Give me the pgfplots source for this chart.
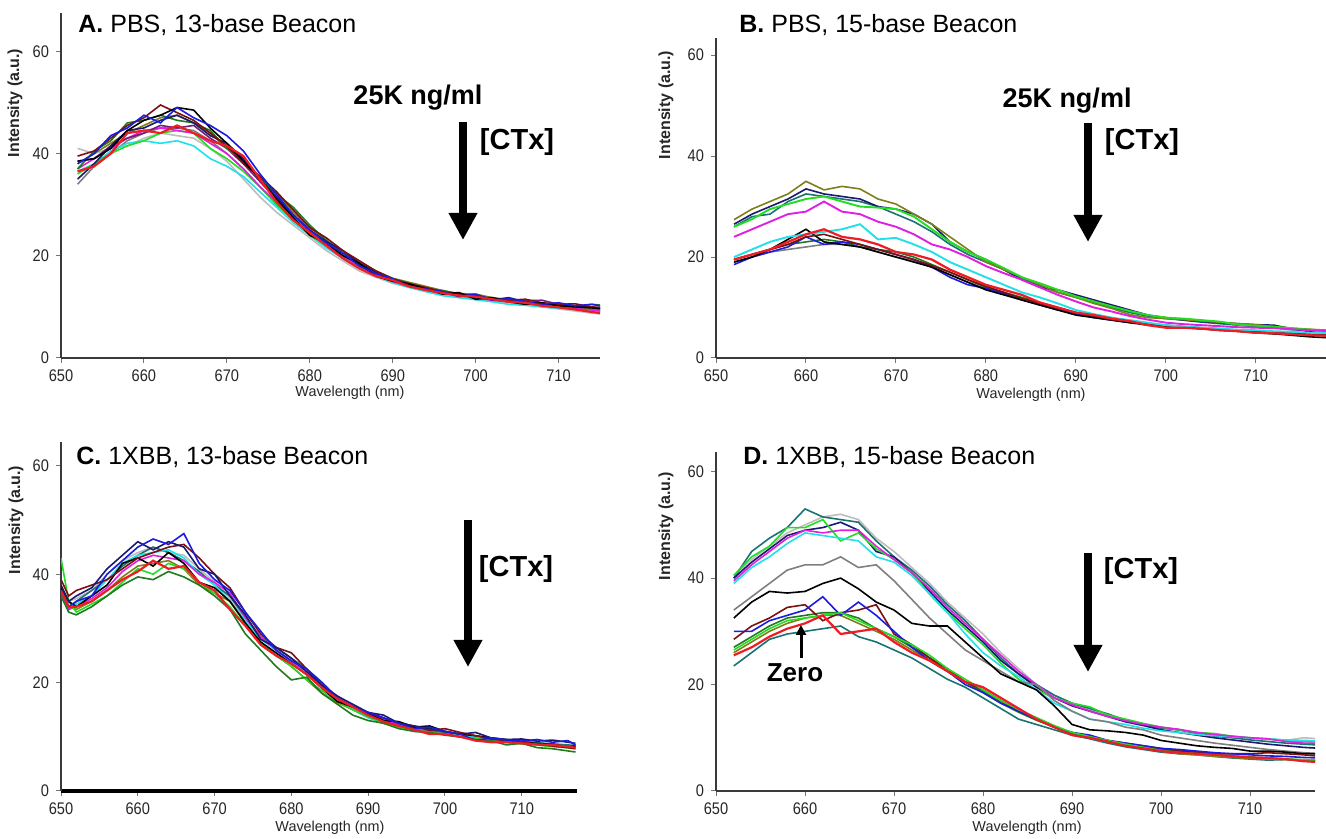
\documentclass[border=0pt]{standalone}
\usepackage{fontspec}
\setmainfont{Liberation Sans}
\newfontfamily\narrowfont[FakeStretch=0.87]{Liberation Sans}
\usepackage{pgfplots}
\usepackage{pgfplotstable}
\pgfplotsset{compat=1.18}
\usetikzlibrary{arrows.meta}

\definecolor{cMaroon}{HTML}{7B1010}
\definecolor{cBlue}{HTML}{1C1CE0}
\definecolor{cDkGreen}{HTML}{1E7B1E}
\definecolor{cLime}{HTML}{22DD22}
\definecolor{cCyan}{HTML}{22E0E8}
\definecolor{cMag}{HTML}{E020E0}
\definecolor{cRed}{HTML}{EE1C24}
\definecolor{cLtGray}{HTML}{BDBDBD}
\definecolor{cGray}{HTML}{7F7F7F}
\definecolor{cOlive}{HTML}{7F7F1A}
\definecolor{cNavy}{HTML}{1A1A70}
\definecolor{cPurple}{HTML}{7A1A7A}
\definecolor{cTeal}{HTML}{1A7373}
\definecolor{axcol}{HTML}{3A3A3A}
\definecolor{tickcol}{HTML}{262626}

\pgfplotstableread[header=false]{
x 652 654 656 658 660 662 664 666 668 670 672 674 676 678 680 682 684 686 688 690 692 694 696 698 700 702 704 706 708 710 712 714 716
a1 38.5 39 41 44.5 46.5 47.5 49 48.5 45 42 38.5 35 31 27.5 24 22.5 20 18.5 16 15 14.5 13.5 12.5 12.8 11.5 11.8 11 10.5 10.8 10.2 10 9.8 9.5
a2 39.5 40.5 43 45.5 47 49.5 48 46.5 44 41.5 38 35.5 32.5 29 25.5 23.5 21 19 17 15.5 14.5 13.8 13 12.5 12.2 11.6 11.3 11.5 10.8 10.5 10.6 10 9.8
a3 38 40 43.5 45 47.5 46 49 47 45.5 43.5 40.5 36 32 28 25 22.5 20.5 18 16.5 15.5 14 13.5 13 12 12.5 11.3 11.6 11 10.5 10.8 10.2 10.5 9.9
a4 37 40.5 42.5 46 46.5 47.5 46.5 46 44.5 41 39 35 32 29.5 26 23 20.5 18.5 17 15.5 14.6 13.5 13.2 12.5 12 11.8 11.2 11 10.6 10.4 10 10.5 10.2
a5 36 38 40 41.5 42.5 44 44.5 44 41 39 36.5 33.5 30 27 24 22 19.5 17.8 16.2 15 14 13.2 12.9 12.2 11.8 11.4 11 10.6 10.5 10 9.8 9.5 9
a6 36.5 38 40.5 42 42.5 42 42.5 41.5 39 37.5 35.5 32.5 29.5 26.5 24 21.5 19.5 17.5 16 14.8 13.8 13 12.2 11.8 11.4 11 10.5 10.3 10 9.7 9.5 9.3 9
a7 37 39 41 43 44.5 45 44.5 44 42 40 37 33.5 30.5 27.5 24.5 22 20 18 16.3 15 14 13.3 12.7 12.2 11.8 11.3 11 10.8 10.3 10 9.7 9.4 9
a8 36.5 37.5 40 44 44.5 44 45.5 44 42.5 41.5 39.5 35 30.5 27 24.5 22 19.5 17.5 16 15.2 14 13.3 12.7 12.2 12 11.5 11 10.8 10.2 9.9 9.5 9 8.6
a9 41 40 41 41.5 43 44 43.5 43 41 38.5 35 31.5 28.5 26 23.5 21 19 17 15.8 14.6 13.8 13 12.4 12 11.5 11.2 10.8 10.4 10 9.6 9.2 8.8 8.4
a10 38 40 42 44 45.5 47 47.5 46 44 41 38.5 35.5 32.5 28.5 25.5 23 20.5 18.8 17 15.6 14.8 14 13.2 12.6 12.5 11.8 11.4 11 10.7 10.3 10.1 9.7 9.4
a11 35 38 41.5 44.5 45 46.5 47.5 46 43.5 42 39 35 31.5 28 25 22.8 21 18.5 16.8 15.2 14.2 13.6 12.8 12.5 12 11.4 11.8 11 10.6 10.4 10.2 9.9 9.6
a12 38.5 39 41.5 43 44 45.5 45 45.5 43 41 38 34.5 31 28 25 22.5 20.5 18.3 16.6 15.3 14.4 13.7 13 12.4 12.1 11.6 11.4 11.2 11.3 10.5 10.2 9.8 9.6
a13 34 37.5 40 42.5 44 45 45 44.5 42.5 40 37 33.5 30 27 24.5 22 20 18 16.5 15 14 13.3 12.7 12.2 11.8 11.4 11 10.7 10.4 10.1 9.8 9.5 9.2
}\rawA
\pgfplotstabletranspose[colnames from=0]\tabA\rawA

\pgfplotstableread[header=false]{
x 652 654 656 658 660 662 664 666 668 670 672 674 676 678 680 682 684 686 688 690 692 694 696 698 700 702 704 706 708 710 712 714 716 718
b1 27.4 29.5 31 32.5 35 33.3 34 33.5 31.5 30.5 28.5 26.5 24 21.5 19 17.5 16 14.5 13 12 10.8 9.8 8.6 8 7.8 7.6 7.3 7.1 6.8 6.6 6.2 5.9 5.7 5.5
b2 26.5 28.5 30 31.5 33.5 32.5 32 31.5 30 29.5 28.5 26.5 23 21 19.5 17.5 15.5 14 13.5 12.5 11.5 10.5 9.5 8.5 8 7.5 7.2 7 6.8 6.6 6.5 5.8 5.2 4.8
b3 26 28 28.5 31 32.5 32 31.5 31 30 28.5 27 25 22.5 20.5 19 17.5 15.8 14.3 13 12 11 10 9 8.3 7.8 7.5 7.1 6.8 6.5 6.2 6 5.6 5.5 5.3
b4 26 27.5 29.5 30.5 31.5 32 31 30 29.8 29.5 28 25.5 23 21 19.5 17.8 16 14.8 13.5 12.2 11.2 10.2 9.3 8.5 8 7.8 7.5 7.2 6.6 6.4 6.2 5.9 5.6 5.4
b5 24 25.5 27 28.5 29 31 29 28.5 27 26 24.5 22.5 21.5 20 18.2 16.8 15.5 14 12.5 11.2 10 9.2 8.3 7.6 7 6.7 6.5 6.3 6.1 6 5.9 5.7 5.5 5.4
b6 20 21.5 23 24 24.5 25 25.5 26.5 23.5 23.8 22.5 21 19 17.5 16 14.5 13 12 10.8 9.5 8.7 8 7.5 7 6.5 6.2 6 5.8 5.6 5.5 5.3 5.2 5 4.9
b7 19 20 21.5 23.5 25.5 23 22.5 22 21 20 19 18 16.5 15 13.5 12.5 11.5 10.5 9.5 8.5 8 7.5 7 6.5 6.2 6 5.8 5.5 5.3 5 4.8 4.5 4.2 4
b8 18.5 20 21 22 24 22.5 23 22.5 21.5 20.5 19.5 18 16 14.5 13.8 12.8 11.5 10.5 9.5 8.8 8 7.5 7 6.8 6.5 6.2 6 5.8 5.5 5.2 5 4.8 4.6 4.5
b9 19.5 20.5 21.5 22.5 23 23.5 23 22 21.5 21 20 18.5 17 15.5 14 13 12 11 10 9 8.3 7.8 7.2 6.8 6.3 6.1 5.8 5.5 5.3 5 4.8 4.7 4.5 4.4
b10 19 20 21 21.5 22 22.5 22.5 22 21 20 19.2 18 16.5 15 13.8 12.6 11.5 10.5 9.6 8.8 8.1 7.6 7.1 6.6 6.3 6 5.8 5.6 5.4 5.2 5 4.8 4.7 4.6
b11 19.5 20.5 21.5 22.5 24 24.5 23.5 22.5 21.5 20.5 19.5 18.3 17 15.5 14.2 13 11.8 10.8 9.8 9 8.3 7.6 7.2 6.8 6.4 6.2 5.9 5.7 5.4 5.2 5 4.9 4.7 4.6
b12 19.5 20.5 21.5 23 24.5 25.5 24 23.5 22.5 21 20.5 19.5 17.5 16 14.5 13.5 12.5 11 10 9 8.5 7.8 7.3 6.5 6 6 5.8 5.5 5.3 5 4.9 4.7 4.5 4.4
}\rawB
\pgfplotstabletranspose[colnames from=0]\tabB\rawB

\pgfplotstableread[header=false]{
x 650 651 652 654 656 658 660 662 664 666 668 670 672 674 676 678 680 682 684 686 688 690 692 694 696 698 700 702 704 706 708 710 712 714 716 717
c1 38 35 36 37.5 41 43.5 46 44.5 46 45 41 40 36 32.5 28 26.5 24.5 22 19.5 17.5 16 14.5 14 12.5 12 11.5 11 10.5 10.8 9.8 9.5 9.6 9.2 9.4 9 8.8
c2 37 34 35 36 40 42.5 45 46.5 45.5 47.5 42 39 37 33 29.5 26 24 22.5 20 17 15.5 14.5 13.5 12.5 11.5 11.8 11 10.5 9.3 9.8 9.4 9.2 9.5 9 9.3 8.5
c3 39 36 37 38 39 41 43 44 45 45.5 43 40 37.5 33 29 26.5 25.5 22.5 19.5 17 15.5 14.5 13.5 12.5 12 11.2 11.5 10.8 10.2 9.6 9.3 9.1 8.6 8.3 8 7.8
c4 37.5 35 34 36 38 42 43 41.5 44 42 38.5 37.5 35 31 27.5 25.5 23.5 21.5 19 16.5 15.5 14.3 13 12.8 11.8 12 11 10.5 10.2 9.8 9.5 9 8.8 8.6 8.2 8.3
c5 36 33 32.5 34 36 38 39.5 39 40.5 39.5 38 36 33.5 29 26 23 20.5 21 18 16 14 13 12.5 11.5 11 10.8 10.3 10 9.5 9.3 8.5 8.8 8 7.8 7.4 7.2
c6 43 35 33 34.5 36 38.5 41 40 42 41 38.5 36.5 34 30.5 27.5 25 23 20.5 18.5 16.5 15 13.8 12.5 11.8 11.2 10.8 10.5 10 9.7 9.2 9 8.8 8.5 8.2 8 7.8
c7 37 34 34.5 36 39 42 43.5 44 44.5 43 40 38 35 31.5 28 26 23.8 21.5 19 17 15 13.5 12.5 11.8 11 10.8 10.5 10.2 10 9.6 9.3 9 8.8 8.5 8.3 8.2
c8 36 33.5 34 35.5 37.5 40.5 42.5 43.5 43 42.5 40 38.5 36.5 32 28.5 26 24 22 19.5 17.5 15.8 14.2 13.2 12.2 11.5 11 10.4 10 9.6 9.4 9 8.8 8.6 8.3 8.1 8
c9 37 35 35.5 37 40 42.5 44 45 44 43.5 41 38.5 35.5 31.5 28.5 26 24 22 19.5 17 15.5 14.2 13 12.3 11.6 11.2 10.8 10.3 9.9 9.6 9.3 9 8.8 8.6 8.4 8.3
c10 38 34 33.5 35 37 39.5 41.5 42 42.5 41 38 36.5 35 31 27 25 23 20.5 18 16.3 15 13.7 12.7 12 11.3 10.9 10.5 10 9.6 9.3 9 8.7 8.5 8.3 8 7.9
c11 36.5 33.5 35 37 39 41.5 43.5 45 44 42.5 40.5 38 36 32 28.5 26.5 24.5 22.5 20 17.3 15.6 14.3 13.2 12.4 11.7 11.2 10.8 10.4 10 9.6 9.2 9.2 8.9 8.7 8.5 8.4
c12 37 34 34 35 37 39 40.5 42.5 41 41.5 38.5 37 33.5 30.5 27 25 23.5 21.5 19 17 15.5 14 12.8 12 11.3 10.5 10.5 10 9.3 9 9 8.8 8.6 8.5 8.2 8
}\rawC
\pgfplotstabletranspose[colnames from=0]\tabC\rawC

\pgfplotstableread[header=false]{
x 652 654 656 658 660 662 664 666 668 670 672 674 676 678 680 682 684 686 688 690 692 694 696 698 700 702 704 706 708 710 712 714 716 718
d1 40 45 47.5 49.5 53 51.5 51 50.5 47 44 41.5 38.5 35 32 28.5 25 22 20 18 16.5 15.5 14.5 13.3 12.5 11.8 11.5 10.8 10.3 10 9.6 9.3 9 8.8 8.6
d2 40 43 45.5 48 49 49.5 50.5 49 45 44 41 37.5 34 31 28 24.5 22 19.5 17.5 16 15 14 13 12.3 11.5 11 10.5 10 9.6 9.2 8.8 8.5 8.2 8
d3 40.5 44 46 49.5 49.5 51 47 48.5 45.5 43.5 41 37 33.5 30.5 27.5 24 21 19 17.5 16.5 15.8 14.3 13.5 12.7 12 11.5 11 10.8 10.3 10 9.8 9.5 9.3 9.2
d4 39.5 42.5 45 47.5 49 48.5 49 49 46 43.5 41 38 34.5 31.5 28.5 25.5 22.5 20 17.5 16.2 15 14 13.2 12.5 12 11.6 11 10.6 10.3 10 9.8 9.3 9 9
d5 39 42 44 46.5 48.5 48 47.5 47 44 43 40.5 37 33.5 29.5 26 23.5 21.5 19 16.5 15 13.5 13 12.5 11.8 11.3 11 10.6 10.4 10.2 10 9.8 9.6 9.5 9.4
d6 40.5 43.5 46 48.5 50 51.5 52 51 47.5 45 42 39 35.5 32.5 29.5 26 23 20 18 16.5 15.3 14.2 13.4 12.6 12 11.4 11 10.6 10.2 9.9 9.7 9.5 10 9.8
d7 34 36.5 39 41.5 42.5 42.5 44 42 42.5 39.5 36 32.5 29.5 26.5 24.5 22.5 20.5 20 17 15 13.5 13 12 11.5 10.5 10 9.5 9 8.6 8.2 7.8 7.5 7.2 7
d8 32.5 35.5 37.5 37.2 37.5 39 40 38 35.5 34 31.5 31 31 28 25 22 20.5 19 16 12.5 11.5 11.3 11 10.5 9.5 9 8.5 8.2 8 7.5 7.5 7.3 7 7
d9 30 30 32 33 34 36.5 33 35.5 33 30 27 24.5 22.5 20 18.5 16.5 15 13.5 12 11 10.5 9.5 9 8.5 8 7.8 7.5 7.2 7 6.8 6.6 6.5 6.3 6.2
d10 28.5 31 32.5 34.5 35 32 33.5 34 35 29.5 27.5 25 23 20.5 19 17 15 13.5 12 11 10.2 9.5 9 8.5 8 7.6 7.3 7 7 7 7.2 7 6.8 6.5
d11 27 29 31 32.5 33 33.5 33.5 32.5 30.5 29 27 25 22.5 20.5 18.5 16.5 14.8 13.3 12 10.8 10 9.3 8.7 8.2 7.8 7.4 7.1 6.8 6.6 6.4 6.2 6 5.8 5.7
d12 26.5 28.5 30.5 32 32.5 33 33.5 32 30.5 29 27.5 25.5 23 21 19 17 15.3 13.8 12.3 11 10.2 9.5 8.8 8.2 7.6 7.2 7 6.7 6.5 6.3 6.1 6 5.9 5.8
d13 23.5 26 28.5 29.5 30 30.5 31 29 28 26.5 25 23 21 19.5 17.5 15.5 13.5 12.5 11.5 10.5 9.8 9 8.3 7.8 7.3 7 6.8 6.5 6.2 6 5.8 5.9 5.7 5.6
d14 26 28 30 31.5 32.5 33 33 31.5 30 28.5 26.5 24.5 22.5 20.5 18.7 16.8 15 13.5 12 10.8 10 9.3 8.6 8 7.5 7 6.8 6.5 6.3 6.1 6 5.9 5.7 5.6
d15 25.5 27 29 30.5 31.5 33 29.5 30 30.5 28 26 24.5 22.5 20.5 19.5 17.5 15.5 13.5 12 10.5 10 9.3 8.5 8 7.5 7.2 7 6.8 6.5 6.3 6.2 6 5.6 5.4
}\rawD
\pgfplotstabletranspose[colnames from=0]\tabD\rawD

\pgfplotsset{
 spec/.style={
  scale only axis,
  axis x line=bottom, axis y line=left,
  axis line style={-, line width=1pt, color=axcol},
  enlargelimits=false,
  xtick={650,660,...,710}, ytick={0,20,40,60},
  tick align=outside, major tick length=2.5pt,
  tick style={color=axcol!70, line width=0.5pt},
  tick label style={font=\narrowfont\fontsize{8.4}{10}\selectfont, text=tickcol},
  /pgf/number format/assume math mode=true,
  every axis plot/.append style={line width=0.8pt, no markers},
  clip=true,
 },
}

\begin{document}
\begin{tikzpicture}
\useasboundingbox (0,0) rectangle (663pt,419.5pt);

% ---------- A ----------
\begin{axis}[spec, at={(30.5pt,240.5pt)}, anchor=south west,
  width=269.5pt, height=172.5pt, xmin=650, xmax=715, ymin=0, ymax=67.5]
\addplot[cLtGray] table[x=x,y=a9]{\tabA};
\addplot[cGray] table[x=x,y=a13]{\tabA};
\addplot[cCyan] table[x=x,y=a6]{\tabA};
\addplot[cLime] table[x=x,y=a5]{\tabA};
\addplot[cMag] table[x=x,y=a7]{\tabA};
\addplot[cPurple] table[x=x,y=a12]{\tabA};
\addplot[cOlive] table[x=x,y=a10]{\tabA};
\addplot[cDkGreen] table[x=x,y=a4]{\tabA};
\addplot[cNavy] table[x=x,y=a11]{\tabA};
\addplot[cMaroon] table[x=x,y=a2]{\tabA};
\addplot[black] table[x=x,y=a1]{\tabA};
\addplot[cBlue] table[x=x,y=a3]{\tabA};
\addplot[cRed, line width=1.1pt] table[x=x,y=a8]{\tabA};
\end{axis}

% ---------- B ----------
\begin{axis}[spec, at={(358pt,240.5pt)}, anchor=south west,
  width=305pt, height=160pt, xmin=650, xmax=717.8, ymin=0, ymax=63.4]
\addplot[cGray] table[x=x,y=b10]{\tabB};
\addplot[cDkGreen] table[x=x,y=b9]{\tabB};
\addplot[cBlue] table[x=x,y=b8]{\tabB};
\addplot[black] table[x=x,y=b7]{\tabB};
\addplot[cMaroon] table[x=x,y=b11]{\tabB};
\addplot[cTeal] table[x=x,y=b3]{\tabB};
\addplot[cNavy] table[x=x,y=b2]{\tabB};
\addplot[cOlive] table[x=x,y=b1]{\tabB};
\addplot[cLime, line width=0.95pt] table[x=x,y=b4]{\tabB};
\addplot[cMag, line width=0.95pt] table[x=x,y=b5]{\tabB};
\addplot[cCyan, line width=0.95pt] table[x=x,y=b6]{\tabB};
\addplot[cRed, line width=1.1pt] table[x=x,y=b12]{\tabB};
\end{axis}

% ---------- C ----------
\begin{axis}[spec, at={(30.5pt,24pt)}, anchor=south west,
  width=258pt, height=174.5pt, xmin=650, xmax=717.2, ymin=0, ymax=64.4,
  x axis line style={line width=1.6pt, color=black}]
\addplot[cLtGray] table[x=x,y=c9]{\tabC};
\addplot[cTeal] table[x=x,y=c11]{\tabC};
\addplot[cCyan] table[x=x,y=c7]{\tabC};
\addplot[cMag] table[x=x,y=c8]{\tabC};
\addplot[cOlive] table[x=x,y=c10]{\tabC};
\addplot[cLime] table[x=x,y=c6]{\tabC};
\addplot[cDkGreen] table[x=x,y=c5]{\tabC};
\addplot[black] table[x=x,y=c4]{\tabC};
\addplot[cMaroon] table[x=x,y=c3]{\tabC};
\addplot[cNavy] table[x=x,y=c1]{\tabC};
\addplot[cBlue] table[x=x,y=c2]{\tabC};
\addplot[cRed, line width=1.1pt] table[x=x,y=c12]{\tabC};
\end{axis}

% ---------- D ----------
\begin{axis}[spec, at={(358pt,24pt)}, anchor=south west,
  width=299.5pt, height=169.5pt, xmin=650, xmax=717.3, ymin=0, ymax=63.7]
\addplot[cLtGray] table[x=x,y=d6]{\tabD};
\addplot[cTeal] table[x=x,y=d1]{\tabD};
\addplot[cNavy] table[x=x,y=d2]{\tabD};
\addplot[cLime] table[x=x,y=d3]{\tabD};
\addplot[cCyan] table[x=x,y=d5]{\tabD};
\addplot[cMag] table[x=x,y=d4]{\tabD};
\addplot[cGray] table[x=x,y=d7]{\tabD};
\addplot[black] table[x=x,y=d8]{\tabD};
\addplot[cTeal] table[x=x,y=d13]{\tabD};
\addplot[cOlive] table[x=x,y=d14]{\tabD};
\addplot[cDkGreen] table[x=x,y=d11]{\tabD};
\addplot[cMaroon] table[x=x,y=d10]{\tabD};
\addplot[cBlue] table[x=x,y=d9]{\tabD};
\addplot[cLime] table[x=x,y=d12]{\tabD};
\addplot[cRed, line width=1.1pt] table[x=x,y=d15]{\tabD};
\end{axis}

% ---------- titles ----------
\begin{scope}[every node/.style={anchor=base west, inner sep=0pt, font=\fontsize{12.5}{15}\selectfont}]
\node at (39pt,403pt) {\textbf{A.} PBS, 13-base Beacon};
\node at (369.5pt,403pt) {\textbf{B.} PBS, 15-base Beacon};
\node at (38pt,187pt) {\textbf{C.} 1XBB, 13-base Beacon};
\node at (371.5pt,187pt) {\textbf{D.} 1XBB, 15-base Beacon};
\end{scope}

% ---------- axis labels ----------
\begin{scope}[every node/.style={inner sep=0pt, text=tickcol}]
\node[rotate=90, font=\bfseries\fontsize{8}{9}\selectfont] at (7.5pt,368pt) {Intensity (a.u.)};
\node[rotate=90, font=\bfseries\fontsize{8}{9}\selectfont] at (333pt,367pt) {Intensity (a.u.)};
\node[rotate=90, font=\bfseries\fontsize{8}{9}\selectfont] at (8pt,159.5pt) {Intensity (a.u.)};
\node[rotate=90, font=\bfseries\fontsize{8}{9}\selectfont] at (333pt,156.5pt) {Intensity (a.u.)};
\node[font=\fontsize{7.2}{9}\selectfont] at (175pt,223pt) {Wavelength (nm)};
\node[font=\fontsize{7.2}{9}\selectfont] at (515.5pt,222pt) {Wavelength (nm)};
\node[font=\fontsize{7.2}{9}\selectfont] at (165pt,5.5pt) {Wavelength (nm)};
\node[font=\fontsize{7.2}{9}\selectfont] at (513.5pt,5.5pt) {Wavelength (nm)};
\end{scope}

% ---------- annotations ----------
\begin{scope}[every node/.style={inner sep=0pt}]
\node[font=\bfseries\fontsize{13.5}{16}\selectfont] at (209pt,370.5pt) {25K ng/ml};
\node[font=\bfseries\fontsize{14.5}{17}\selectfont] at (258.5pt,348.5pt) {[CTx]};
\node[font=\bfseries\fontsize{13.5}{16}\selectfont] at (533.5pt,369pt) {25K ng/ml};
\node[font=\bfseries\fontsize{14.5}{17}\selectfont] at (571pt,348.5pt) {[CTx]};
\node[font=\bfseries\fontsize{14.5}{17}\selectfont] at (258pt,135pt) {[CTx]};
\node[font=\bfseries\fontsize{14.5}{17}\selectfont] at (570.5pt,134pt) {[CTx]};
\node[font=\bfseries\fontsize{13}{15}\selectfont] at (397.5pt,83pt) {Zero};
\end{scope}
\begin{scope}[line width=4pt, -{Triangle[length=13.5pt,width=13.5pt]}]
\draw (231.5pt,358.5pt) -- (231.5pt,299.5pt);
\draw (544pt,358pt) -- (544pt,298.5pt);
\draw (234pt,159.5pt) -- (234pt,86pt);
\draw (544pt,143pt) -- (544pt,83.5pt);
\end{scope}
\draw[line width=1.5pt, -{Triangle[length=5pt,width=5pt]}] (400.5pt,90.5pt) -- (400.5pt,107pt);
\end{tikzpicture}
\end{document}
